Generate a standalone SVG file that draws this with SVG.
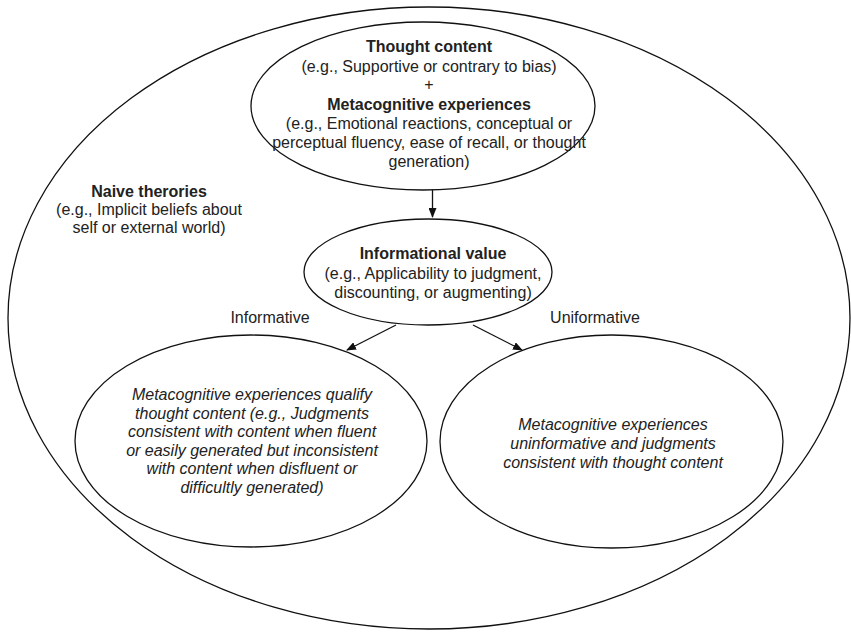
<svg xmlns="http://www.w3.org/2000/svg" width="851" height="632" viewBox="0 0 851 632">
<style>
.e{fill:none;stroke:#111;stroke-width:1.3}
.t{font-family:"Liberation Sans",Arial,sans-serif;font-size:16px;fill:#222;text-anchor:middle}
.b{font-weight:bold}
.i{font-style:italic}
.c{stroke:#111;stroke-width:1.3;fill:none}
</style>
<defs>
<marker id="ah" markerWidth="10" markerHeight="8" refX="9" refY="4" orient="auto" markerUnits="userSpaceOnUse">
<path d="M0,0 L10,4 L0,8 Z" fill="#111"/>
</marker>
</defs>
<rect width="851" height="632" fill="#fff"/>
<g id="naive">
<ellipse class="e" cx="429" cy="318" rx="421" ry="311"/>
<text class="t b" x="149" y="197">Naive therories</text>
<text class="t" x="149" y="215">(e.g., Implicit beliefs about</text>
<text class="t" x="149" y="233">self or external world)</text>
</g>
<g id="thought">
<ellipse class="e" cx="423" cy="106" rx="172" ry="84"/>
<text class="t b" x="429" y="52">Thought content</text>
<text class="t" x="429" y="72">(e.g., Supportive or contrary to bias)</text>
<text class="t" x="429" y="90">+</text>
<text class="t b" x="429" y="110">Metacognitive experiences</text>
<text class="t" x="429" y="129">(e.g., Emotional reactions, conceptual or</text>
<text class="t" x="429" y="148">perceptual fluency, ease of recall, or thought</text>
<text class="t" x="429" y="167">generation)</text>
</g>
<g id="info">
<ellipse class="e" cx="428" cy="272" rx="124" ry="53"/>
<text class="t b" x="433" y="259">Informational value</text>
<text class="t" x="433" y="279">(e.g., Applicability to judgment,</text>
<text class="t" x="433" y="298">discounting, or augmenting)</text>
</g>
<g id="qualify">
<ellipse class="e" cx="251" cy="441" rx="176" ry="106"/>
<text class="t i" x="252" y="400">Metacognitive experiences qualify</text>
<text class="t i" x="252" y="419">thought content (e.g., Judgments</text>
<text class="t i" x="252" y="437">consistent with content when fluent</text>
<text class="t i" x="252" y="456">or easily generated but inconsistent</text>
<text class="t i" x="252" y="474">with content when disfluent or</text>
<text class="t i" x="252" y="493">difficultly generated)</text>
</g>
<g id="uninformative">
<ellipse class="e" cx="611.5" cy="441.5" rx="171.5" ry="106.5"/>
<text class="t i" x="613" y="430">Metacognitive experiences</text>
<text class="t i" x="613" y="449">uninformative and judgments</text>
<text class="t i" x="613" y="468">consistent with thought content</text>
</g>
<g id="connectors">
<line class="c" x1="432.5" y1="190" x2="432.5" y2="217" marker-end="url(#ah)"/>
<line class="c" x1="396" y1="325" x2="347" y2="350" marker-end="url(#ah)"/>
<line class="c" x1="473" y1="325" x2="522" y2="350" marker-end="url(#ah)"/>
<text class="t" x="270" y="323">Informative</text>
<text class="t" x="595" y="323">Uniformative</text>
</g>
</svg>
